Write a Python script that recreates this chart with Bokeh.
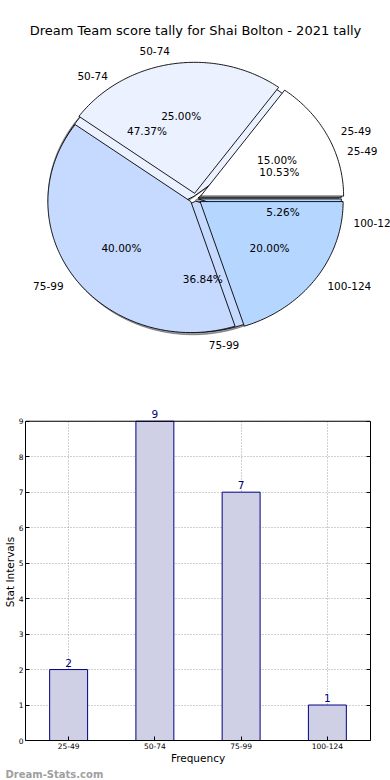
import numpy as np
from bokeh.plotting import figure
from bokeh.models import (ColumnDataSource, LabelSet, Label, Range1d, FactorRange,
                          LinearAxis, Span, Title)
from bokeh.embed import file_html
from bokeh.resources import INLINE
from bokeh.core.properties import value

# ---------------- data ----------------
categories = ["25-49", "50-74", "75-99", "100-124"]
tally_counts = [2, 9, 7, 1]              # back pie and bar chart
tally_share = [15.0, 25.0, 40.0, 20.0]   # front pie (percent)
slice_colors = ["#ffffff", "#ebf1ff", "#c6d9ff", "#b4d6ff"]
title_text = "Dream Team score tally for Shai Bolton - 2021 tally"
y_ticks = list(range(0, 10))

FONT = "DejaVu Sans"

# ---------------- pie geometry ----------------
RX, RY = 143.0, 131.0     # pixels per unit radius (matplotlib's non-equal aspect)
CX, CY = 195.0, 198.0     # pie centre on the canvas (px)
PAGE_W = 390
PIE_H = 352


def pie_parts(vals, explode, label_dist=1.1, pct_dist=0.6):
    vals = np.asarray(vals, float)
    fr = vals / vals.sum()
    th = np.concatenate([[0.0], np.cumsum(fr)]) * 2 * np.pi
    xs, ys = [], []
    lx, ly, lal, px, py, pct = [], [], [], [], [], []
    for i in range(len(vals)):
        t1, t2 = th[i], th[i + 1]
        m = 0.5 * (t1 + t2)
        ox, oy = explode * np.cos(m), explode * np.sin(m)
        n = max(8, int(180 * (t2 - t1) / np.pi))
        t = np.linspace(t1, t2, n)
        xs.append(list(np.concatenate([[ox], ox + np.cos(t), [ox]])))
        ys.append(list(np.concatenate([[oy], oy + np.sin(t), [oy]])))
        x_l = ox + label_dist * np.cos(m)
        lx.append(x_l)
        ly.append(oy + label_dist * np.sin(m))
        lal.append("left" if x_l > 0 else "right")
        px.append(ox + pct_dist * np.cos(m))
        py.append(oy + pct_dist * np.sin(m))
        pct.append("%.2f%%" % (100 * fr[i]))
    return xs, ys, lx, ly, lal, px, py, pct


p = figure(width=PAGE_W, height=PIE_H, output_backend="svg", toolbar_location=None,
           x_range=Range1d((0 - CX) / RX, (PAGE_W - CX) / RX),
           y_range=Range1d((CY - PIE_H) / RY, CY / RY),
           x_axis_location=None, y_axis_location=None, min_border=0)
p.grid.visible = False
p.outline_line_color = None

back = pie_parts(tally_counts, 0.02)
front = pie_parts(tally_share, 0.04)


def shade(c):
    c = c.lstrip("#")
    r, g, b = [int(c[i:i + 2], 16) for i in (0, 2, 4)]
    return "#%02x%02x%02x" % (int(r * 0.3), int(g * 0.3), int(b * 0.3))


# shadows (below all wedges)
sh_src = ColumnDataSource(dict(xs=[[v - 0.02 for v in xx] for xx in back[0]],
                               ys=[[v - 0.02 for v in yy] for yy in back[1]],
                               c=[shade(c) for c in slice_colors]))
p.patches("xs", "ys", source=sh_src, fill_color="c", line_color="c",
          fill_alpha=0.5, line_alpha=0.5)

for parts in (back, front):
    src = ColumnDataSource(dict(xs=parts[0], ys=parts[1], c=slice_colors))
    p.patches("xs", "ys", source=src, fill_color="c", line_color="black", line_width=0.9)

for parts in (back, front):
    lsrc = ColumnDataSource(dict(x=parts[2], y=parts[3], a=parts[4], t=categories))
    p.text("x", "y", text="t", source=lsrc, text_align="a", text_baseline="middle",
           text_font=value(FONT), text_font_size="10.5px", text_color="black")
    psrc = ColumnDataSource(dict(x=parts[5], y=parts[6], t=parts[7]))
    p.text("x", "y", text="t", source=psrc, text_align="center", text_baseline="middle",
           text_font=value(FONT), text_font_size="10.5px", text_color="black")

# chart title (drawn as text at the top of the pie panel)
p.add_layout(Label(x=0, y=(CY - 30) / RY, text=title_text, text_align="center",
                   text_baseline="middle", text_font=FONT, text_font_size="13px",
                   text_color="black"))

# ---------------- bar chart ----------------
BAR_H = 780 - PIE_H
Y_TOP = max(y_ticks)
b = figure(width=PAGE_W, height=BAR_H, output_backend="svg", toolbar_location=None,
           x_range=FactorRange(*categories, range_padding=0),
           y_range=Range1d(0, Y_TOP + 0.5),
           min_border_top=51, min_border_right=20, min_border_left=8,
           min_border_bottom=40)
b.vbar(x=categories, top=tally_counts, width=0.44, fill_color="#cfcfe6",
       line_color="#000080", line_width=1)
bsrc = ColumnDataSource(dict(x=categories, y=tally_counts, t=[str(v) for v in tally_counts]))
b.add_layout(LabelSet(x="x", y="y", text="t", source=bsrc, y_offset=3,
                      text_align="center", text_baseline="bottom",
                      text_font=value(FONT), text_font_size="10.5px", text_color="#000080"))

b.outline_line_color = None
for g in (b.xgrid, b.ygrid):
    g.grid_line_color = "#a0a0a0"
    g.grid_line_dash = "1 2"
    g.grid_line_width = 1
xg = b.xgrid[0]
if "cross_bounds" in xg.properties():
    xg.cross_bounds = (0, Y_TOP)
b.yaxis.ticker = y_ticks
b.yaxis.bounds = (0, Y_TOP)

right_axis = LinearAxis(ticker=y_ticks, bounds=(0, Y_TOP), major_label_text_color=None,
                        major_label_text_font_size="7.5px", major_label_standoff=0)
b.add_layout(right_axis, "right")
b.add_layout(Span(location=Y_TOP, dimension="width", line_color="black", line_width=1))

left_axis = b.yaxis[0]
bottom_axis = b.xaxis[0]
for ax in (bottom_axis, left_axis, right_axis):
    ax.axis_line_color = "black"
    ax.axis_line_width = 1
    ax.major_tick_in = 4
    ax.major_tick_out = 0
    ax.minor_tick_line_color = None
    ax.major_tick_line_color = "black"
    ax.major_label_text_font = FONT
    ax.axis_label_text_font = FONT
    ax.axis_label_text_font_size = "10.5px"
    ax.axis_label_text_font_style = "normal"
    ax.axis_label_text_color = "black"
for ax in (bottom_axis, left_axis):
    ax.major_label_text_color = "black"
    ax.major_label_text_font_size = "7.5px"
    ax.major_label_standoff = 2
    ax.axis_label_standoff = 0
bottom_axis.axis_label = "Frequency"
left_axis.axis_label = "Stat Intervals"

wm = Title(text="Dream-Stats.com", align="left", text_font=FONT, text_font_size="10px",
           text_font_style="bold", text_color="#a0a0a0", standoff=0, offset=-20)
b.add_layout(wm, "below")

open("out.html", "w").write(file_html([p, b], INLINE))
